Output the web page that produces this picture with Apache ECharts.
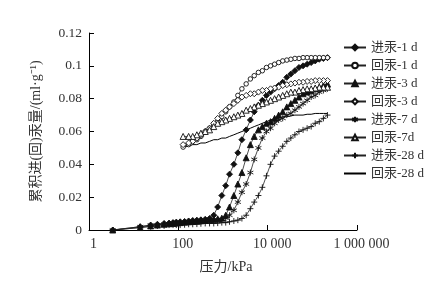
<!DOCTYPE html>
<html>
<head>
<meta charset="utf-8">
<script src="https://cdn.jsdelivr.net/npm/echarts/dist/echarts.min.js"></script>
<style>
  html, body { margin: 0; padding: 0; background: #fff; }
  #main { width: 438px; height: 283px; }
</style>
</head>
<body>
<div id="main"></div>
<script>
// 进汞压力点 (kPa)
var presIn = [3.4, 14, 24, 34, 48, 62, 76, 90, 110, 138, 170, 210, 260, 320, 400, 500, 620, 760, 940, 1150,
  1400, 1750, 2150, 2650, 3300, 4100, 5000, 6200, 7600, 9400, 11600, 14300, 17600, 21700, 26800, 33000,
  40700, 50200, 62000, 76400, 94200, 116000, 143000, 177000, 218000];
// 回汞压力点 (kPa)
var presOut = [218000, 177000, 143000, 116000, 94200, 76400, 62000, 50200, 40700, 33000, 26800, 21700,
  17600, 14300, 11600, 9400, 7600, 6200, 5000, 4100, 3300, 2650, 2150, 1750, 1400, 1150, 940, 760, 620,
  500, 400, 320, 260, 210, 170, 128];

var in1d = [0, 0.002, 0.003, 0.0035, 0.004, 0.0042, 0.0045, 0.0048, 0.005, 0.0052, 0.0055, 0.0058, 0.006,
  0.0062, 0.0065, 0.007, 0.009, 0.014, 0.021, 0.027, 0.034, 0.040, 0.047, 0.055, 0.061, 0.067, 0.072,
  0.076, 0.079, 0.082, 0.084, 0.086, 0.088, 0.090, 0.093, 0.095, 0.097, 0.099, 0.100, 0.101, 0.102,
  0.103, 0.104, 0.1045, 0.105];
var in3d = [0, 0.0015, 0.0025, 0.003, 0.0035, 0.0038, 0.004, 0.0042, 0.0045, 0.0048, 0.005, 0.0052, 0.0055,
  0.0058, 0.006, 0.0062, 0.0065, 0.0068, 0.0072, 0.009, 0.014, 0.021, 0.028, 0.035, 0.044, 0.052, 0.057,
  0.061, 0.063, 0.065, 0.066, 0.068, 0.070, 0.072, 0.075, 0.077, 0.079, 0.081, 0.083, 0.084, 0.085,
  0.086, 0.087, 0.088, 0.089];
var in7d = [0, 0.002, 0.003, 0.003, 0.0035, 0.0038, 0.004, 0.004, 0.0042, 0.0045, 0.0048, 0.005, 0.005,
  0.0052, 0.0055, 0.0058, 0.006, 0.0062, 0.0065, 0.0072, 0.009, 0.012, 0.017, 0.023, 0.028, 0.035, 0.043,
  0.050, 0.056, 0.060, 0.062, 0.065, 0.067, 0.068, 0.070, 0.071, 0.073, 0.075, 0.077, 0.079, 0.081,
  0.082, 0.084, 0.085, 0.086];
var in28d = [0, 0.0015, 0.002, 0.0025, 0.0025, 0.003, 0.003, 0.003, 0.003, 0.0032, 0.0035, 0.0035, 0.0036,
  0.0038, 0.004, 0.004, 0.004, 0.0042, 0.0045, 0.0045, 0.005, 0.0055, 0.006, 0.007, 0.009, 0.013, 0.017,
  0.021, 0.026, 0.033, 0.040, 0.045, 0.048, 0.051, 0.054, 0.056, 0.058, 0.060, 0.061, 0.062, 0.063,
  0.065, 0.066, 0.068, 0.070];

var out1d = [0.105, 0.105, 0.105, 0.105, 0.105, 0.105, 0.105, 0.1045, 0.1045, 0.104, 0.1035, 0.103, 0.102,
  0.101, 0.100, 0.099, 0.097, 0.096, 0.094, 0.092, 0.089, 0.086, 0.082, 0.078, 0.075, 0.072, 0.069,
  0.066, 0.064, 0.062, 0.060, 0.057, 0.055, 0.054, 0.052, 0.0505];
var out3d = [0.091, 0.091, 0.091, 0.091, 0.0905, 0.0905, 0.090, 0.090, 0.0895, 0.089, 0.0885, 0.088, 0.087,
  0.0865, 0.086, 0.085, 0.085, 0.084, 0.083, 0.083, 0.082, 0.081, 0.079, 0.077, 0.075, 0.073, 0.071,
  0.068, 0.065, 0.062, 0.060, 0.058, 0.056, 0.054, 0.053, 0.052];
var out7d = [0.087, 0.087, 0.087, 0.0865, 0.086, 0.086, 0.0855, 0.085, 0.084, 0.084, 0.083, 0.082, 0.081,
  0.080, 0.079, 0.078, 0.077, 0.076, 0.075, 0.074, 0.073, 0.071, 0.070, 0.069, 0.068, 0.067, 0.066,
  0.065, 0.063, 0.061, 0.060, 0.059, 0.058, 0.057, 0.057, 0.057];
var out28d = [0.071, 0.071, 0.071, 0.071, 0.0705, 0.0705, 0.070, 0.070, 0.070, 0.0695, 0.069, 0.069, 0.068,
  0.068, 0.067, 0.066, 0.065, 0.064, 0.063, 0.062, 0.061, 0.060, 0.059, 0.058, 0.057, 0.056, 0.056,
  0.055, 0.055, 0.054, 0.053, 0.053, 0.052, 0.052, 0.051, 0.0505];

var xTicks = [1, 100, 10000, 1000000];
var xTickLabels = ['1', '100', '10 000', '1 000 000'];

var fontFam = "'Liberation Serif', 'Noto Sans CJK SC', serif";

function pairs(p, v) {
  var arr = [];
  for (var i = 0; i < v.length; i++) arr.push([p[i], v[i]]);
  return arr;
}

// 符号：星号、十字
var starPath = 'path://M0,-10L0,10M-8.7,-5L8.7,5M-8.7,5L8.7,-5';
var plusPath = 'path://M-10,0L10,0M0,-10L0,10';

function mk(name, data, symbol, fill, size) {
  return {
    name: name,
    type: 'line',
    data: data,
    symbol: symbol,
    symbolSize: size,
    showSymbol: symbol !== 'none',
    lineStyle: { color: '#222', width: 0.8 },
    itemStyle: { color: fill, borderColor: '#111', borderWidth: 0.9 },
    emphasis: { disabled: true },
    animation: false
  };
}

var myChart = echarts.init(document.getElementById('main'));
var option = {
  backgroundColor: '#fff',
  textStyle: { fontFamily: fontFam },
  grid: { left: 89, right: 81, top: 33, bottom: 53 },
  legend: {
    orient: 'vertical',
    left: 338,
    top: 36,
    itemGap: 5,
    itemWidth: 22,
    itemHeight: 7,
    textStyle: { fontFamily: fontFam, fontSize: 13, color: '#333' },
    data: ['进汞-1 d', '回汞-1 d', '进汞-3 d', '回汞-3 d', '进汞-7 d', '回汞-7d', '进汞-28 d',
      { name: '回汞-28 d', itemStyle: { opacity: 0 } }]
  },
  xAxis: {
    type: 'log',
    logBase: 10,
    min: 1,
    max: 1000000,
    interval: 2,
    name: '压力/kPa',
    nameLocation: 'middle',
    nameGap: 30,
    nameTextStyle: { fontFamily: fontFam, fontSize: 14, color: '#333', padding: [0, 0, 0, 6] },
    axisLine: { lineStyle: { color: '#000', width: 1 } },
    axisTick: { inside: true, length: 5, lineStyle: { color: '#000' } },
    splitLine: { show: false },
    axisLabel: {
      fontFamily: fontFam, fontSize: 14, color: '#333', margin: 7, padding: [0, 0, 0, 9],
      formatter: function (v) {
        var i = xTicks.indexOf(Math.round(v));
        return i >= 0 ? xTickLabels[i] : '';
      }
    }
  },
  yAxis: {
    type: 'value',
    min: 0,
    max: 0.12,
    interval: 0.02,
    name: '累积进(回)汞量/(ml·g⁻¹)',
    nameLocation: 'middle',
    nameGap: 46,
    nameTextStyle: { fontFamily: fontFam, fontSize: 14, color: '#333' },
    axisLine: { show: true, lineStyle: { color: '#000', width: 1 } },
    axisTick: { show: true, inside: true, length: 5, lineStyle: { color: '#000' } },
    splitLine: { show: false },
    axisLabel: { fontFamily: fontFam, fontSize: 13.5, color: '#333', margin: 7 }
  },
  series: [
    mk('进汞-1 d', pairs(presIn, in1d), 'diamond', '#111', 6),
    mk('回汞-1 d', pairs(presOut, out1d), 'circle', '#fff', 4.5),
    mk('进汞-3 d', pairs(presIn, in3d), 'triangle', '#111', 6),
    mk('回汞-3 d', pairs(presOut, out3d), 'diamond', '#fff', 6),
    mk('进汞-7 d', pairs(presIn, in7d), starPath, '#111', 6),
    mk('回汞-7d', pairs(presOut, out7d), 'triangle', '#fff', 6),
    mk('进汞-28 d', pairs(presIn, in28d), plusPath, '#111', 6),
    mk('回汞-28 d', pairs(presOut, out28d), 'none', '#111', 0)
  ]
};
option.series[7].lineStyle = { color: '#000', width: 1 };
myChart.setOption(option);
window.onresize = myChart.resize;
</script>
</body>
</html>
